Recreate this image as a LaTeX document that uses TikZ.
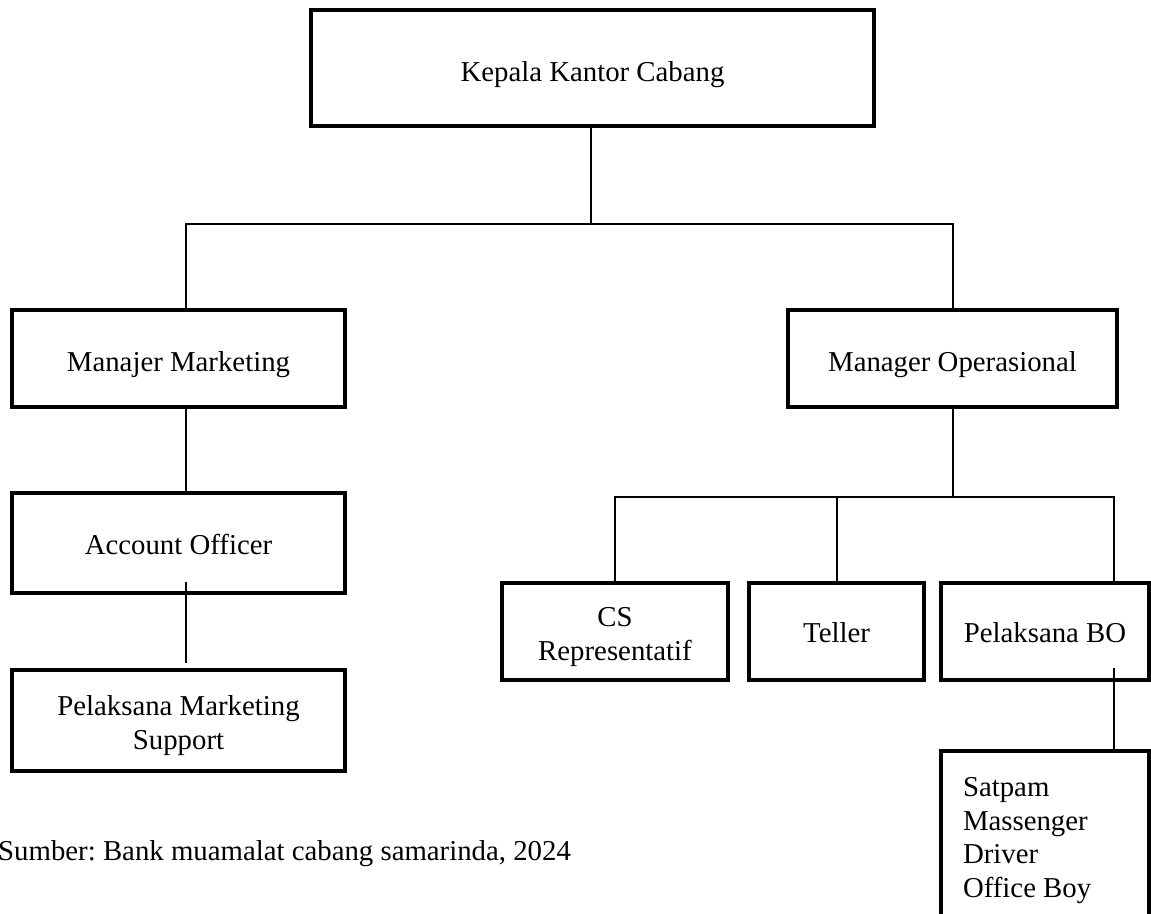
\documentclass[tikz,border=0pt]{standalone}
\usepackage{fontspec}
\setmainfont{Liberation Serif}
\frenchspacing
\begin{document}
\begin{tikzpicture}[x=1pt,y=-1pt,
  box/.style={draw, line width=3.5pt, rectangle, inner sep=0pt, align=center,
    font=\fontsize{28.8}{33.5}\selectfont},
  low/.style={text height=#1, text depth=0pt},
  high/.style={text height=0pt, text depth=#1},
  link/.style={draw, line width=2pt},
  srctext/.style={font=\fontsize{28.8}{33.5}\selectfont, inner sep=0pt}]
\clip (0,0) rectangle (1151,913);
% boxes
\node[box, low=27pt, minimum width=563pt, minimum height=116pt] (kkc) at (592.5,68) {Kepala Kantor Cabang};
\node[box, low=26pt, minimum width=333pt, minimum height=97pt] (mm) at (178.5,358.5) {Manajer Marketing};
\node[box, low=26pt, minimum width=329pt, minimum height=97pt] (mo) at (952.5,358.5) {Manager Operasional};
\node[box, low=23pt, minimum width=333pt, minimum height=100pt] (ao) at (178.5,543) {Account Officer};
\node[box, high=10pt, minimum width=333pt, minimum height=101pt] (pms) at (178.5,720.5)
  {\begin{tabular}[t]{@{}c@{}}Pelaksana Marketing\\Support\end{tabular}};
\node[box, high=10pt, minimum width=226pt, minimum height=97pt] (cs) at (615,631.5)
  {\begin{tabular}[t]{@{}c@{}}CS\\Representatif\end{tabular}};
\node[box, low=22pt, minimum width=175pt, minimum height=97pt] (tel) at (836.5,631.5) {Teller};
\node[box, low=22pt, minimum width=208pt, minimum height=97pt] (bo) at (1045,631.5) {Pelaksana BO};
\node[box, high=82pt, minimum width=208pt, minimum height=173pt] (sat) at (1045,837.5)
  {\makebox[164pt][l]{\begin{tabular}[t]{@{}l@{}}Satpam\\Massenger\\Driver\\Office Boy\end{tabular}}};
\node[srctext, anchor=base west] (src) at (-2,860) {Sumber: Bank muamalat cabang samarinda, 2024};
% connectors
\coordinate (b1) at (591,224);
\draw[link] (kkc.south -| b1) -- (b1);
\draw[link] ([xshift=7.5pt]mm.north) |- (b1) -| (mo.north);
\draw[link] ([xshift=7.5pt]mm.south) -- ([xshift=7.5pt]ao.north);
\draw[link] ([xshift=7.5pt,yshift=13pt]ao.south) -- ([xshift=7.5pt,yshift=5pt]pms.north);
\coordinate (b2) at (952.5,497);
\coordinate (boc) at ([xshift=69pt]bo.north);
\draw[link] (mo.south) -- (b2);
\draw[link] (cs.north) |- (boc |- b2) -- (boc);
\draw[link] (tel.north) -- (tel.north |- b2);
\draw[link] ([xshift=69pt,yshift=14pt]bo.south) -- ([xshift=69pt]sat.north);
\end{tikzpicture}
\end{document}
